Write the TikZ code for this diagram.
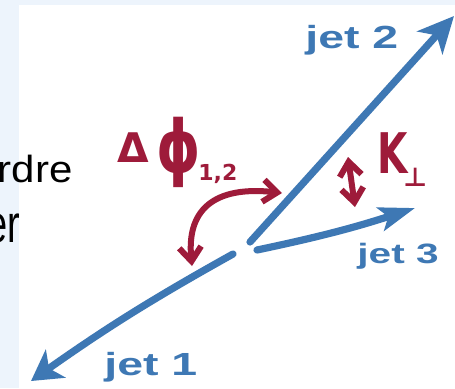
\documentclass[tikz,border=0pt]{standalone}
\usepackage{fontspec}
\setmainfont{Liberation Sans}
\newfontfamily\handfont{DejaVu Sans}
\usetikzlibrary{arrows.meta,positioning}
\definecolor{jetblue}{RGB}{62,120,180}
\definecolor{handred}{RGB}{158,27,58}
\definecolor{slidebg}{RGB}{237,244,252}

\begin{document}
\begin{tikzpicture}[
  x=0.5pt, y=-0.5pt,
  jet/.style={line width=3.6pt, draw=jetblue, line cap=round},
  jetlab/.style={text=jetblue, inner sep=0pt, anchor=base west},
  hand/.style={line width=3pt, draw=handred, line cap=round, line join=round},
  redlab/.style={text=handred, inner sep=0pt, anchor=base west, font=\handfont\bfseries},
  barbs/.style={{Straight Barb[length=7pt,width=11pt]}-{Straight Barb[length=7pt,width=11pt]}}
]
% ---------- Slide background ----------
\fill[slidebg] (0,0) rectangle (455,388);
\fill[white] (19,5) rectangle (455,388);
\useasboundingbox (0,0) rectangle (455,388);

% ---------- Cut-off slide text ----------
\node[anchor=base east, inner sep=0pt, font=\fontsize{21}{21}\selectfont] (frag1) at (73,182) {\scalebox{1}[0.9]{rdre}};
\node[anchor=base east, inner sep=0pt, font=\fontsize{19}{19}\selectfont] (frag2) at (21,242) {\scalebox{1}[1.4]{er}};

% ---------- Jets ----------
\coordinate (o1) at (233,254);
\coordinate (t1) at (31,381);
\coordinate (o2) at (250,242);
\coordinate (t2) at (454,16);
\coordinate (o3) at (257,250);
\coordinate (t3) at (415,208);
\draw[jet, -{Stealth[length=15pt,width=17pt,inset=4pt]}] (o1) to[bend right=3] (t1);
\draw[jet, -{Stealth[length=18pt,width=17pt,inset=5pt]}] (o2) -- (t2);
\draw[jet, -{Stealth[length=18pt,width=12pt,inset=4pt]}] (o3) to[bend right=3] (t3);

\node[jetlab, font=\fontsize{16}{16}\selectfont\bfseries] (lab1) at (104,375) {\scalebox{1.45}[1]{jet 1}};
\node[jetlab, font=\fontsize{16}{16}\selectfont\bfseries] (lab2) at (305,48) {\scalebox{1.45}[1]{jet 2}};
\node[jetlab, font=\fontsize{14}{14}\selectfont\bfseries] (lab3) at (357,263) {\scalebox{1.45}[1]{jet 3}};

% ---------- Angle between jet 1 and jet 2 ----------
\node[redlab, font=\handfont\bfseries\fontsize{17}{17}\selectfont] (delta) at (117,162) {\scalebox{1.2}{Δ}};
\node[redlab, font=\handfont\bfseries\fontsize{28}{28}\selectfont] (phi) at (156,172) {\scalebox{1}[1.3]{ϕ}};
\node[redlab, font=\handfont\bfseries\fontsize{11}{11}\selectfont] (phisub) at (198,180) {1,2};
\coordinate (phiA) at (192,266);
\coordinate (phiB) at (282,193);
\draw[hand, barbs] (phiA) .. controls (186,205) and (220,186) .. (phiB);

% ---------- Transverse momentum ----------
\node[redlab, font=\handfont\bfseries\fontsize{28}{28}\selectfont] (kay) at (377,173) {\scalebox{0.7}[1]{K}};
\node[redlab, font=\handfont\bfseries\fontsize{13}{13}\selectfont] (perp) at (403,186) {⊥};
\coordinate (kA) at (348,157);
\coordinate (kB) at (355,207);
\draw[hand, barbs] (kA) -- (kB);
\end{tikzpicture}
\end{document}
